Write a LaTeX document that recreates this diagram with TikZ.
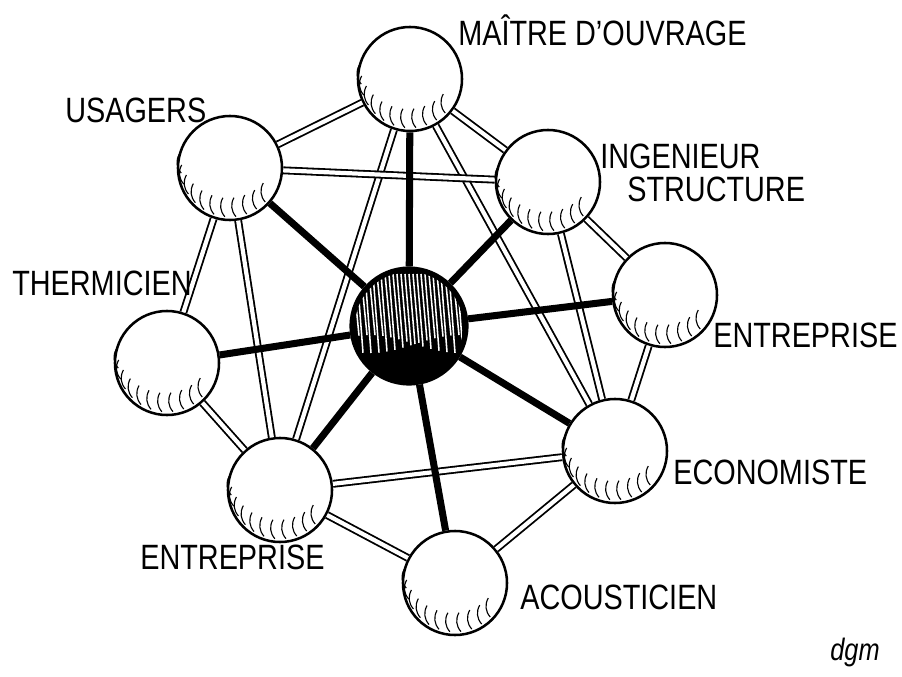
\documentclass[tikz,border=0pt]{standalone}
\usepackage{fontspec}
\setmainfont{Liberation Sans}[FakeStretch=0.82]
\usetikzlibrary{calc}

\begin{document}
\begin{tikzpicture}[x=0.025cm, y=-0.025cm,
    ball/.style={circle, draw, line width=1.8pt, fill=white, minimum size=2.6cm, inner sep=0pt},
    hub/.style={circle, draw, line width=2.2pt, fill=black, minimum size=2.9cm, inner sep=0pt},
    link/.style={double, double distance=3pt, line width=1.3pt},
    spoke/.style={line width=5pt},
    role/.style={font=\fontsize{25}{28}\selectfont, inner sep=0pt, anchor=west}]
    \useasboundingbox (0,0) rectangle (902,677);

    % the actors round the project
    \node[hub] (team) at (409,326) {};
    \node[ball] (mo) at (410,79) {};
    \node[ball] (us) at (230,168) {};
    \node[ball] (ing) at (548,182) {};
    \node[ball] (th) at (167,363) {};
    \node[ball] (entr) at (665,295) {};
    \node[ball] (eco) at (615,451) {};
    \node[ball] (entbl) at (280,490) {};
    \node[ball] (ac) at (455,583) {};

    % hatching of the hub
    \begin{scope}
        \clip (team.center) circle (54);
        \foreach \i in {-56,-52,...,56}
            \draw[white, line width=1.1pt] ($(team.center)+(\i,-52)$) -- ++(6,{70+9*sin(\i*47)});
    \end{scope}

    % links between the actors
    \draw[link] (mo) -- (us);
    \draw[link] (mo) -- (ing);
    \draw[link] (mo) -- (entbl);
    \draw[link] (mo) -- (eco);
    \draw[link] (us) -- (ing);
    \draw[link] (us) -- (th);
    \draw[link] (us) -- (entbl);
    \draw[link] (ing) -- (entr);
    \draw[link] (ing) -- (eco);
    \draw[link] (entr) -- (eco);
    \draw[link] (th) -- (entbl);
    \draw[link] (entbl) -- (eco);
    \draw[link] (entbl) -- (ac);
    \draw[link] (eco) -- (ac);

    % spokes to the hub
    \foreach \b in {mo,us,ing,th,entr,eco,entbl,ac}
        \draw[spoke] (team) -- (\b);

    % shading marks on the balls
    \foreach \b in {mo,us,ing,th,entr,eco,entbl,ac}
        \foreach \a in {44,57,...,180}
            \draw[line width=0.8pt] ($(\b.center)+(\a:49)$) to[bend left=35] ++(-2,-19);

    \node[role] (lmo) at (458,30) {MAÎTRE D'OUVRAGE};
    \node[role] (ling) at (600,156) {INGENIEUR};
    \node[role] (lstr) at (627,189) {STRUCTURE};
    \node[role] (lus) at (65,110) {USAGERS};
    \node[role] (lth) at (12,283) {THERMICIEN};
    \node[role] (lentr) at (713,335) {ENTREPRISE};
    \node[role] (leco) at (673,472) {ECONOMISTE};
    \node[role] (lentbl) at (140,557) {ENTREPRISE};
    \node[role] (lac) at (520,597) {ACOUSTICIEN};
    \node[font=\fontsize{22}{24}\selectfont\itshape] (sig) at (855,652) {dgm};
\end{tikzpicture}
\end{document}
